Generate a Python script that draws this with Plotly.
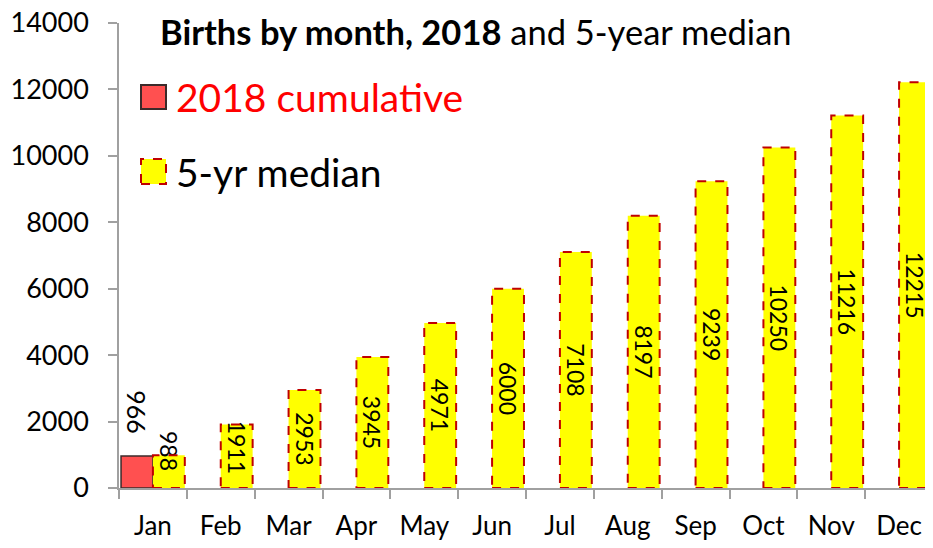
import plotly.graph_objects as go

months = ["Jan", "Feb", "Mar", "Apr", "May", "Jun", "Jul", "Aug", "Sep", "Oct", "Nov", "Dec"]
cumulative_2018 = [966, None, None, None, None, None, None, None, None, None, None, None]
median_5yr = [988, 1911, 2953, 3945, 4971, 6000, 7108, 8197, 9239, 10250, 11216, 12215]
y_ticks = [0, 2000, 4000, 6000, 8000, 10000, 12000, 14000]

FONT = "Lato"
OFF = 8  # page body margin
W, H = 933 - OFF, 548 - OFF
L, R, T, B = 119 - OFF, 0, 23 - OFF, 60
pw, ph = W - L - R, H - T - B

def px_x(p):
    return (p - OFF - L) / pw

def px_y(p):
    return (H - B - (p - OFF)) / ph

bargap = 0.06
half = (1 - bargap) / 2
NB = "\u00a0"
# labels that overflow short bars are nudged upward with trailing padding
label_pad = [7, 3, 0, 0, 0, 0, 0, 0, 0, 0, 0, 0]

fig = go.Figure()
fig.add_trace(go.Bar(
    x=months, y=cumulative_2018, name="2018 cumulative",
    marker=dict(color="#FF5050", line=dict(color="#3B2A2A", width=1.5)),
    text=[(str(v) + NB * 3) if v is not None else "" for v in cumulative_2018],
    textposition="outside", textangle=90, cliponaxis=False, constraintext="none",
    textfont=dict(family=FONT, size=25, color="black"),
    showlegend=False,
))
fig.add_trace(go.Bar(
    x=months, y=median_5yr, name="5-yr median",
    marker=dict(color="#FFFF00", line=dict(width=0)),
    text=[str(v) + NB * p for v, p in zip(median_5yr, label_pad)],
    textposition="inside", textangle=90, insidetextanchor="middle",
    constraintext="none", cliponaxis=False,
    textfont=dict(family=FONT, size=23, color="black"),
    showlegend=False,
))

shapes = []
# dashed outlines around median bars, from the data
for i, v in enumerate(median_5yr):
    shapes.append(dict(type="rect", xref="x", yref="y",
                       x0=i, x1=i + half, y0=0, y1=v,
                       line=dict(color="#C00000", width=2, dash="dash"),
                       layer="above"))

# custom legend
shapes.append(dict(type="rect", xref="paper", yref="paper",
                   x0=px_x(141), x1=px_x(166), y0=px_y(109), y1=px_y(85),
                   fillcolor="#FF5050", line=dict(color="#3B2A2A", width=2)))
shapes.append(dict(type="rect", xref="paper", yref="paper",
                   x0=px_x(141), x1=px_x(166), y0=px_y(184), y1=px_y(159),
                   fillcolor="#FFFF00", line=dict(color="#C00000", width=2, dash="dash")))

annotations = [
    dict(xref="paper", yref="paper", x=px_x(174), y=px_y(97), xanchor="left", yanchor="middle",
         text="2018 cumulative", showarrow=False, font=dict(family=FONT, size=39, color="#FF0000")),
    dict(xref="paper", yref="paper", x=px_x(174), y=px_y(172), xanchor="left", yanchor="middle",
         text="5-yr median", showarrow=False, font=dict(family=FONT, size=39, color="black")),
    dict(xref="paper", yref="paper", x=px_x(158), y=px_y(31), xanchor="left", yanchor="middle",
         text="<b>Births by month, 2018</b> and 5-year median", showarrow=False,
         font=dict(family=FONT, size=34.5, color="black")),
]

fig.update_layout(
    width=W, height=H,
    margin=dict(l=L, r=R, t=T, b=B, autoexpand=False),
    paper_bgcolor="white", plot_bgcolor="white",
    barmode="group", bargap=bargap, bargroupgap=0,
    shapes=shapes, annotations=annotations,
    font=dict(family=FONT, size=27, color="black"),
)
fig.update_xaxes(
    type="category", showline=True, linecolor="#A0A0A0", linewidth=1.5,
    ticks="outside", tickson="boundaries", ticklen=9, tickcolor="#A0A0A0", tickwidth=1.5,
    tickfont=dict(family=FONT, size=26), showgrid=False, automargin=False,
    ticklabelstandoff=14,
)
fig.update_yaxes(
    range=[0, 14000], tickvals=y_ticks, ticktext=[str(v) for v in y_ticks],
    showline=True, linecolor="#A0A0A0", linewidth=1.5,
    ticks="outside", ticklen=9, tickcolor="#A0A0A0", tickwidth=1.5,
    tickfont=dict(family=FONT, size=27), showgrid=False, zeroline=False, automargin=False,
    ticklabelstandoff=14, ticklabeloverflow="allow",
)

fig.write_html("out.html")
